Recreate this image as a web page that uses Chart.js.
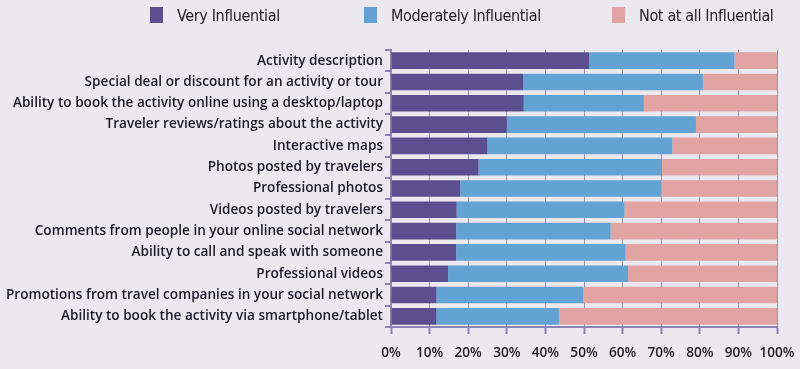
<!DOCTYPE html>
<html>
<head>
<meta charset="utf-8">
<script src="https://cdn.jsdelivr.net/npm/chart.js@4/dist/chart.umd.min.js"></script>
<style>
  html, body { margin: 0; padding: 0; background: #ebe8f0; }
  #wrap { width: 800px; height: 369px; position: relative; }
  .legend-item { position: absolute; top: 6px; height: 18px; display: flex; align-items: center;
    font-family: "Liberation Sans Narrow", "DejaVu Sans Condensed", sans-serif; font-size: 16px;
    letter-spacing: -0.35px; color: #222; }
  .legend-item span.box { display: inline-block; width: 13px; height: 16px; margin-right: 14px; }
</style>
</head>
<body>
<div id="wrap">
  <div id="legend"></div>
  <canvas id="influenceChart"></canvas>
</div>
<script>
// Categories (top to bottom)
const categories = [
  'Activity description',
  'Special deal or discount for an activity or tour',
  'Ability to book the activity online using a desktop/laptop',
  'Traveler reviews/ratings about the activity',
  'Interactive maps',
  'Photos posted by travelers',
  'Professional photos',
  'Videos posted by travelers',
  'Comments from people in your online social network',
  'Ability to call and speak with someone',
  'Professional videos',
  'Promotions from travel companies in your social network',
  'Ability to book the activity via smartphone/tablet'
];

// Share of respondents, %
const veryInfluential = [51.3, 34.2, 34.4, 30.0, 25.0, 22.7, 17.9, 17.0, 16.9, 16.9, 14.8, 11.8, 11.8];
const moderatelyInfluential = [37.7, 46.6, 31.1, 49.0, 47.9, 47.5, 52.1, 43.5, 40.0, 43.9, 46.6, 38.1, 31.7];
const notInfluential = [11.0, 19.2, 34.5, 21.0, 27.1, 29.8, 30.0, 39.5, 43.1, 39.2, 38.6, 50.1, 56.5];

const seriesNames = ['Very Influential', 'Moderately Influential', 'Not at all Influential'];
const xTicks = [0, 10, 20, 30, 40, 50, 60, 70, 80, 90, 100];

const seriesColors = ['#5c4f8f', '#62a3d3', '#e2a4a3'];
const axisColor = '#8c84b4';
const labelFont = { family: '"Open Sans", Lato, sans-serif', size: 13.6, weight: '600' };

// Legend above the chart
const legendLeft = [150, 364, 612];
const legendEl = document.getElementById('legend');
seriesNames.forEach((name, i) => {
  const item = document.createElement('div');
  item.className = 'legend-item';
  item.style.left = legendLeft[i] + 'px';
  item.innerHTML = '<span class="box" style="background:' + seriesColors[i] + '"></span>' + name;
  legendEl.appendChild(item);
});

const ctx = document.getElementById('influenceChart').getContext('2d');
const chart = new Chart(ctx, {
  type: 'bar',
  data: {
    labels: categories,
    datasets: seriesNames.map((name, i) => ({
      label: name,
      data: [veryInfluential, moderatelyInfluential, notInfluential][i],
      backgroundColor: seriesColors[i]
    }))
  },
  options: {
    indexAxis: 'y',
    responsive: true,
    maintainAspectRatio: false,
    animation: false,
    datasets: {
      bar: { categoryPercentage: 1, barPercentage: 0.78, borderWidth: 0 }
    },
    layout: { padding: { left: 0, right: 23, top: 50, bottom: 0 } },
    plugins: {
      tooltip: { enabled: false },
      legend: { display: false }
    },
    scales: {
      x: {
        stacked: true,
        min: 0,
        max: 100,
        afterBuildTicks: (scale) => { scale.ticks = xTicks.map(v => ({ value: v })); },
        afterFit: (scale) => { scale.height = 42; scale.paddingRight = 0; scale.paddingLeft = 0; },
        border: { display: true, color: axisColor, width: 2 },
        grid: {
          display: true,
          drawOnChartArea: true,
          color: 'rgba(120,112,165,0.7)',
          tickColor: axisColor,
          tickLength: 7,
          lineWidth: 1,
          tickWidth: 2
        },
        ticks: {
          color: '#222',
          padding: 11,
          maxRotation: 0,
          minRotation: 0,
          font: labelFont,
          callback: (v) => v + '%'
        }
      },
      y: {
        stacked: true,
        afterFit: (scale) => { scale.width = 391; },
        border: { display: true, color: axisColor, width: 2 },
        grid: {
          display: true,
          drawOnChartArea: false,
          offset: true,
          color: axisColor,
          tickLength: 6,
          lineWidth: 2
        },
        ticks: {
          autoSkip: false,
          color: '#1c1c28',
          padding: 2,
          font: labelFont
        }
      }
    }
  }
});
</script>
</body>
</html>
